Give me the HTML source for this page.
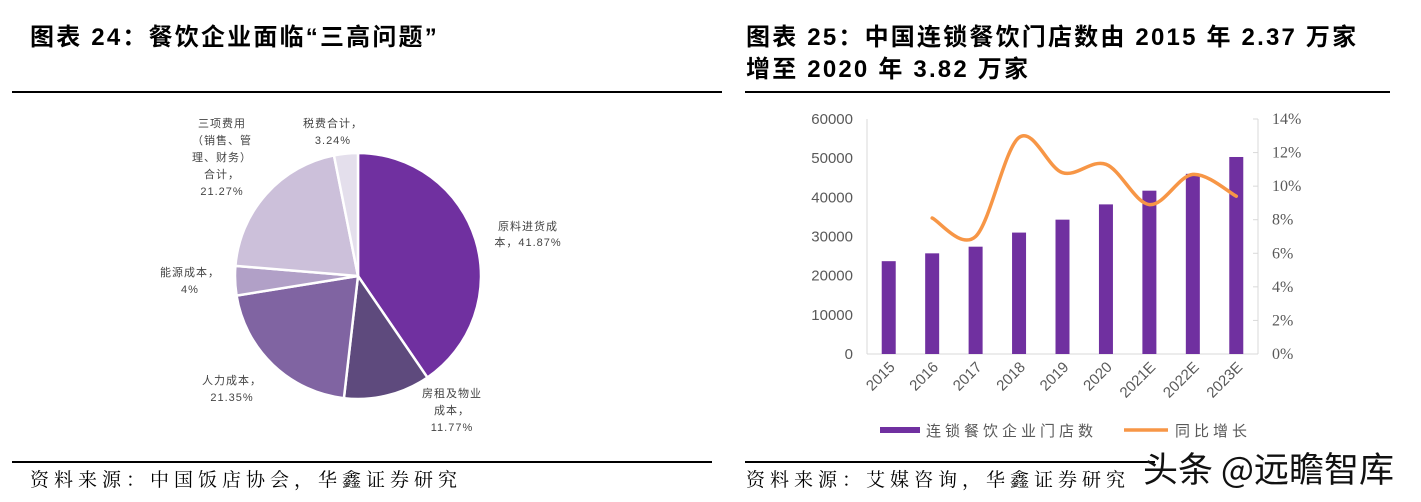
<!DOCTYPE html>
<html><head><meta charset="utf-8">
<style>
body{margin:0;width:1421px;height:502px;background:#fff;position:relative;overflow:hidden;font-family:"Liberation Sans","Noto Sans CJK SC",sans-serif}
.t{position:absolute;font-weight:bold;font-size:24px;letter-spacing:2.2px;color:#000;font-family:"Liberation Sans","Noto Sans CJK SC",sans-serif;line-height:32px;white-space:nowrap}
.src{position:absolute;font-size:19px;letter-spacing:5px;color:#000;font-family:"Liberation Serif","Noto Serif CJK SC",serif;top:465px;white-space:nowrap}
.hl{position:absolute;height:2px;background:#000}
</style></head><body>
<div class="t" style="left:30px;top:22px">图表 24：餐饮企业面临“三高问题”</div>
<div class="t" style="left:746px;top:22px">图表 25：中国连锁餐饮门店数由 2015 年 2.37 万家<br>增至 2020 年 3.82 万家</div>
<div class="hl" style="left:12px;top:91px;width:710px"></div>
<div class="hl" style="left:745px;top:91px;width:645px"></div>
<div class="hl" style="left:12px;top:461px;width:700px;height:1.5px"></div>
<div class="hl" style="left:745px;top:461px;width:410px;height:1.5px"></div>
<div class="src" style="left:30px">资料来源：中国饭店协会，华鑫证券研究</div>
<div class="src" style="left:746px">资料来源：艾媒咨询，华鑫证券研究</div>
<div style="position:absolute;left:1143px;top:442px;font-size:35px;color:#111;font-family:'Noto Sans CJK SC',sans-serif;white-space:nowrap">头条 @远瞻智库</div>

<svg id="pie" width="720" height="460" style="position:absolute;left:0;top:0" font-family="Liberation Sans,Noto Sans CJK SC,sans-serif"></svg>
<svg id="bar" width="700" height="460" style="position:absolute;left:721px;top:0"></svg>

<script>
const pieLabels=["原料进货成本","房租及物业成本","人力成本","能源成本","三项费用（销售、管理、财务）合计","税费合计"];
const pieValues=[41.87,11.77,21.35,4,21.27,3.24];
const pieColors=["#7030a0","#5e4a7d","#8064a2","#b1a0c7","#ccc0da","#e4dfec"];
const NS="http://www.w3.org/2000/svg";
function mk(svg,tag,attrs){const e=document.createElementNS(NS,tag);for(const k in attrs)e.setAttribute(k,attrs[k]);svg.appendChild(e);return e;}
(function(){
const svg=document.getElementById('pie');const cx=358,cy=276,r=123;
const tot=pieValues.reduce((a,b)=>a+b,0);let a0=-Math.PI/2;
pieValues.forEach((v,i)=>{const a1=a0+v/tot*2*Math.PI;
const x0=cx+r*Math.cos(a0),y0=cy+r*Math.sin(a0),x1=cx+r*Math.cos(a1),y1=cy+r*Math.sin(a1);
const p=mk(svg,'path',{d:`M${cx},${cy}L${x0},${y0}A${r},${r} 0 ${a1-a0>Math.PI?1:0} 1 ${x1},${y1}Z`,fill:pieColors[i],stroke:'#fff','stroke-width':2.5});


a0=a1;});
const labs=[[ [528,230,"原料进货成"],[528,246,"本，"+pieValues[0]+"%"] ],
[[452,397,"房租及物业"],[452,414,"成本，"],[452,431,pieValues[1]+"%"]],
[[232,384,"人力成本，"],[232,401,pieValues[2]+"%"]],
[[190,276,"能源成本，"],[190,293,pieValues[3]+"%"]],
[[222,127,"三项费用"],[222,144,"（销售、管"],[222,161,"理、财务）"],[222,178,"合计，"],[222,195,pieValues[4]+"%"]],
[[333,127,"税费合计，"],[333,144,pieValues[5]+"%"]]];
labs.forEach(g=>g.forEach(([x,y,s])=>{const t=mk(svg,'text',{x:x,y:y,'font-size':11,'letter-spacing':1,fill:'#444','text-anchor':'middle'});t.textContent=s;

}));
})();

const years=["2015","2016","2017","2018","2019","2020","2021E","2022E","2023E"];
const stores=[23700,25700,27400,31000,34300,38200,41700,46000,50300];
const growth=[null,8.1,7.0,12.9,10.8,11.3,8.9,10.7,9.4];
const leftTicks=[0,10000,20000,30000,40000,50000,60000];
const rightTicks=[0,2,4,6,8,10,12,14];
(function(){
const svg=document.getElementById('bar');const ox=721;
const x0=867-ox,x1=1258-ox,yb=354,yt=119;
const step=(x1-x0)/years.length;
const xs=i=>x0+step*(i+0.5);
const yL=v=>yb-(v/60000)*(yb-yt);
const yR=v=>yb-(v/14)*(yb-yt);
mk(svg,'line',{x1:x0,y1:yt,x2:x0,y2:yb,stroke:'#d9d9d9'});
mk(svg,'line',{x1:x1,y1:yt,x2:x1,y2:yb,stroke:'#d9d9d9'});
mk(svg,'line',{x1:x0,y1:yb,x2:x1,y2:yb,stroke:'#d9d9d9'});
leftTicks.forEach(v=>{const t=mk(svg,'text',{x:x0-14,y:yL(v)+5,'font-size':15,fill:'#595959','text-anchor':'end','font-family':'Liberation Sans,sans-serif'});t.textContent=v;

});
rightTicks.forEach(v=>{mk(svg,'line',{x1:x1-5,y1:yR(v),x2:x1,y2:yR(v),stroke:'#d9d9d9'});
const t=mk(svg,'text',{x:x1+14,y:yR(v)+5,'font-size':16,fill:'#595959','font-family':'Liberation Serif,serif'});t.textContent=v+"%";

});
stores.forEach((v,i)=>{const b=mk(svg,'rect',{x:xs(i)-7,y:yL(v),width:14,height:yb-yL(v),fill:'#7030a0'});

});
years.forEach((s,i)=>{const t=mk(svg,'text',{x:xs(i)+7,y:yb+14,'font-size':15,fill:'#595959','text-anchor':'end','font-family':'Liberation Sans,sans-serif',transform:`rotate(-45 ${xs(i)+7} ${yb+14})`});t.textContent=s;

});
const pts=[];growth.forEach((g,i)=>{if(g!=null)pts.push([xs(i),yR(g)]);});
let d=`M${pts[0][0]},${pts[0][1]}`;
for(let i=0;i<pts.length-1;i++){const p0=pts[i-1]||pts[i],p1=pts[i],p2=pts[i+1],p3=pts[i+2]||p2;
d+=`C${p1[0]+(p2[0]-p0[0])/6},${p1[1]+(p2[1]-p0[1])/6} ${p2[0]-(p3[0]-p1[0])/6},${p2[1]-(p3[1]-p1[1])/6} ${p2[0]},${p2[1]}`;}
const l=mk(svg,'path',{d:d,fill:'none',stroke:'#f79646','stroke-width':3.5,'stroke-linecap':'round'});


const lg=mk(svg,'rect',{x:880-ox,y:427,width:40,height:6,fill:'#7030a0'});


let t=mk(svg,'text',{x:926-ox,y:436,'font-size':15,'letter-spacing':4,fill:'#595959','font-family':'Noto Sans CJK SC,sans-serif'});t.textContent="连锁餐饮企业门店数";


const ll=mk(svg,'line',{x1:1124-ox,y1:430,x2:1168-ox,y2:430,stroke:'#f79646','stroke-width':3.5});


t=mk(svg,'text',{x:1175-ox,y:436,'font-size':15,'letter-spacing':4,fill:'#595959','font-family':'Noto Sans CJK SC,sans-serif'});t.textContent="同比增长";


})();
</script>
</body></html>
